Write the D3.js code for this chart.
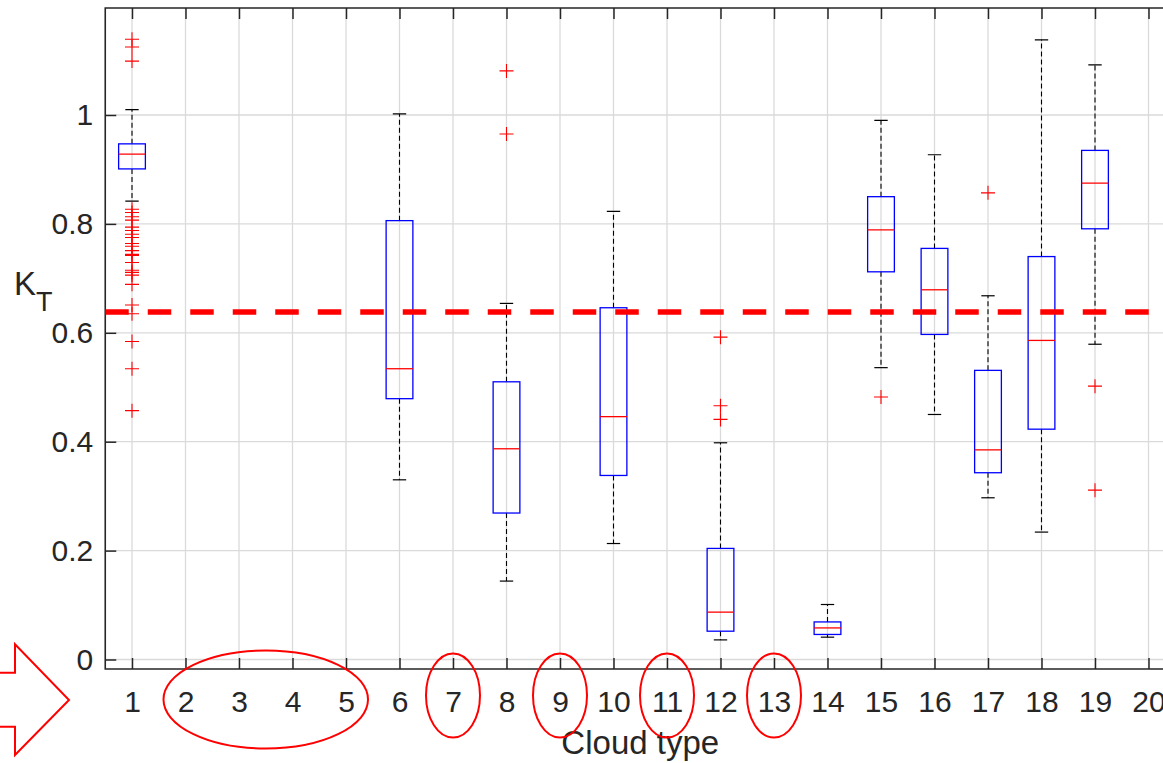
<!DOCTYPE html>
<meta charset="utf-8">
<script src="https://d3js.org/d3.v7.min.js"></script>
<style>
  body { margin: 0; background: #fff; }
  text { font-family: "Liberation Sans", Arial, Helvetica, sans-serif; fill: #262626; }
</style>
<div id="chart"></div>
<script>

// cloud types that have observations
var types       = [1, 6, 8, 10, 12, 14, 15, 16, 17, 18, 19];
var whiskerLow  = [0.842, 0.330, 0.144, 0.213, 0.036, 0.041, 0.536, 0.450, 0.297, 0.234, 0.579];
var q1          = [0.901, 0.479, 0.269, 0.338, 0.052, 0.046, 0.712, 0.597, 0.343, 0.423, 0.791];
var median      = [0.928, 0.534, 0.387, 0.446, 0.087, 0.058, 0.789, 0.679, 0.385, 0.586, 0.875];
var q3          = [0.947, 0.806, 0.510, 0.646, 0.204, 0.069, 0.850, 0.755, 0.531, 0.740, 0.935];
var whiskerHigh = [1.010, 1.002, 0.654, 0.823, 0.398, 0.101, 0.990, 0.927, 0.668, 1.138, 1.092];
var outliers = [
  [1.139, 1.125, 1.099, 0.827, 0.821, 0.813, 0.807, 0.794, 0.788, 0.781, 0.775, 0.764, 0.759,
   0.751, 0.744, 0.742, 0.729, 0.715, 0.711, 0.706, 0.689, 0.651, 0.635, 0.584, 0.534, 0.457],
  [],
  [0.965, 1.081],
  [],
  [0.441, 0.466, 0.592],
  [],
  [0.482],
  [],
  [0.857],
  [],
  [0.502, 0.311]
];

var xTickLabels = d3.range(1, 21);
var yTickValues = [0, 0.2, 0.4, 0.6, 0.8, 1];
var threshold = 0.638;
// circled groups of cloud types (annotation)
var circledFrom = [2, 7, 9, 11, 13];
var circledTo   = [5, 7, 9, 11, 13];

var W = 1163, H = 763;
var pLeft = 105.25, pRight = 1175.25, pTop = 8, pBottom = 669;

var svg = d3.select("#chart").append("svg")
  .attr("width", W)
  .attr("height", H);

var x = d3.scaleLinear().domain([0.5, 20.5]).range([pLeft, pRight]);
var y = d3.scaleLinear().domain([0, 1]).range([659.5, 115]);

var axisColor = "#262626";

// clip for plot area
svg.append("clipPath").attr("id", "plotclip")
  .append("rect").attr("x", pLeft).attr("y", pTop)
  .attr("width", pRight - pLeft).attr("height", pBottom - pTop);

// grid
var grid = svg.append("g");
grid.selectAll(".vg").data(xTickLabels).enter().append("line")
  .attr("x1", d => x(d)).attr("x2", d => x(d))
  .attr("y1", pTop).attr("y2", pBottom)
  .attr("stroke", "#dadada").attr("stroke-width", 1.3);
grid.selectAll(".hg").data(yTickValues).enter().append("line")
  .attr("x1", pLeft).attr("x2", pRight)
  .attr("y1", d => y(d)).attr("y2", d => y(d))
  .attr("stroke", "#dadada").attr("stroke-width", 1.3);

// axes
var yAxis = svg.append("g")
  .attr("transform", "translate(" + pLeft + ",0)")
  .call(d3.axisLeft(y).tickValues(yTickValues).tickSizeInner(-11).tickSizeOuter(0).tickPadding(12)
    .tickFormat(d => d === 0 || d === 1 ? String(d) : d3.format(".1f")(d)));
var xAxis = svg.append("g")
  .attr("transform", "translate(0," + pBottom + ")")
  .call(d3.axisBottom(x).tickValues(xTickLabels).tickSizeInner(-11).tickSizeOuter(0).tickPadding(22)
    .tickFormat(d3.format("d")));
var topAxis = svg.append("g")
  .attr("transform", "translate(0," + pTop + ")")
  .call(d3.axisTop(x).tickValues(xTickLabels).tickSizeInner(-11).tickSizeOuter(0).tickFormat(""));
var rightAxis = svg.append("g")
  .attr("transform", "translate(" + pRight + ",0)")
  .call(d3.axisRight(y).tickValues(yTickValues).tickSizeInner(-11).tickSizeOuter(0).tickFormat(""));

[yAxis, xAxis, topAxis, rightAxis].forEach(function(a) {
  a.select(".domain").remove();
  a.attr("font-size", null).attr("font-family", null);
  a.selectAll(".tick line").attr("stroke", axisColor).attr("stroke-width", 1.5);
  a.selectAll(".tick text").style("font-size", "30px").attr("fill", axisColor);
});

// axes box
svg.append("path")
  .attr("d", "M" + pLeft + "," + pTop + "V" + pBottom + "H" + pRight + "V" + pTop + "Z")
  .attr("fill", "none").attr("stroke", axisColor).attr("stroke-width", 1.6);

// boxes
var plot = svg.append("g").attr("clip-path", "url(#plotclip)");
var boxW = x(1.25) - x(1);      // half of 0.5 box width
var capW = x(1.125) - x(1);

types.forEach(function(t, i) {
  var cx = x(t);
  var g = plot.append("g");
  // whiskers
  g.append("line").attr("x1", cx).attr("x2", cx)
    .attr("y1", y(q3[i])).attr("y2", y(whiskerHigh[i]))
    .attr("stroke", "#000").attr("stroke-width", 1.1).attr("stroke-dasharray", "5,3");
  g.append("line").attr("x1", cx).attr("x2", cx)
    .attr("y1", y(q1[i])).attr("y2", y(whiskerLow[i]))
    .attr("stroke", "#000").attr("stroke-width", 1.1).attr("stroke-dasharray", "5,3");
  [whiskerHigh[i], whiskerLow[i]].forEach(function(v) {
    g.append("line").attr("x1", cx - capW).attr("x2", cx + capW)
      .attr("y1", y(v)).attr("y2", y(v))
      .attr("stroke", "#000").attr("stroke-width", 1.2);
  });
  // box
  g.append("rect")
    .attr("x", cx - boxW).attr("width", 2 * boxW)
    .attr("y", y(q3[i])).attr("height", y(q1[i]) - y(q3[i]))
    .attr("fill", "none").attr("stroke", "#0000ff").attr("stroke-width", 1.3);
  g.append("line").attr("x1", cx - boxW).attr("x2", cx + boxW)
    .attr("y1", y(median[i])).attr("y2", y(median[i]))
    .attr("stroke", "#ff0000").attr("stroke-width", 1.3);
  // outliers
  outliers[i].forEach(function(v) {
    g.append("path")
      .attr("d", "M" + (cx - 7) + "," + y(v) + "H" + (cx + 7) + "M" + cx + "," + (y(v) - 7) + "V" + (y(v) + 7))
      .attr("stroke", "#ff0000").attr("stroke-width", 1.1).attr("fill", "none");
  });
});

// threshold line
plot.append("line")
  .attr("x1", pLeft).attr("x2", pRight)
  .attr("y1", y(threshold)).attr("y2", y(threshold))
  .attr("stroke", "#ff0000").attr("stroke-width", 5.5)
  .attr("stroke-dasharray", "23.5,19");

// axis labels
svg.append("text")
  .attr("x", (pLeft + pRight) / 2).attr("y", 754)
  .attr("text-anchor", "middle")
  .style("font-size", "33px")
  .text("Cloud type");

var kt = svg.append("text").attr("x", 14).attr("y", 295).style("font-size", "33px");
kt.append("tspan").text("K");
kt.append("tspan").attr("dy", 16).style("font-size", "27px").text("T");

// annotations: arrow and circles around missing types
svg.append("path")
  .attr("d", "M-5,672.7 H15 V644.3 L69,700 L15,755 V726.7 H-5")
  .attr("fill", "#fff").attr("stroke", "#ff0000").attr("stroke-width", 2);

circledFrom.forEach(function(a, i) {
  var b = circledTo[i];
  var wide = b > a;
  svg.append("ellipse")
    .attr("cx", (x(a) + x(b)) / 2)
    .attr("cy", wide ? 699.5 : 695.5)
    .attr("rx", (x(b) - x(a)) / 2 + (wide ? 22 : 27))
    .attr("ry", wide ? 49 : 42)
    .attr("fill", "none").attr("stroke", "#ff0000").attr("stroke-width", 2);
});

</script>
